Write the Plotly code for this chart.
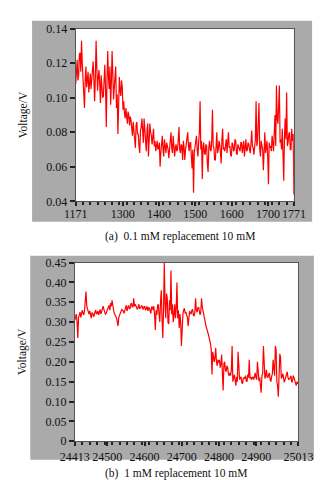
import plotly.graph_objects as go

W, H = 330, 480

# ---- data (a) ----
x_a_start, x_a_step = 1171, 2
volt_a = [
    0.108, 0.118, 0.122, 0.110, 0.113, 0.125, 0.126, 0.115, 0.133, 0.120,
    0.112, 0.104, 0.094, 0.110, 0.118, 0.106, 0.110, 0.115, 0.103, 0.112,
    0.114, 0.105, 0.109, 0.117, 0.121, 0.110, 0.098, 0.112, 0.133, 0.118,
    0.104, 0.112, 0.116, 0.108, 0.097, 0.113, 0.108, 0.100, 0.101, 0.110,
    0.119, 0.105, 0.083, 0.110, 0.127, 0.112, 0.105, 0.118, 0.096, 0.109,
    0.127, 0.114, 0.099, 0.106, 0.110, 0.118, 0.094, 0.102, 0.079, 0.095,
    0.112, 0.104, 0.101, 0.110, 0.106,
    0.093, 0.098, 0.091, 0.088, 0.094, 0.088, 0.085, 0.092, 0.090, 0.084,
    0.089, 0.087, 0.080, 0.078, 0.086,
    0.082, 0.076, 0.071, 0.084, 0.086, 0.079, 0.079, 0.072, 0.068, 0.081,
    0.083, 0.088, 0.077, 0.074, 0.088, 0.080, 0.074, 0.069, 0.081, 0.085,
    0.066, 0.078, 0.085, 0.080, 0.078, 0.073, 0.076, 0.082,
    0.072, 0.075, 0.069, 0.073, 0.075, 0.070, 0.071, 0.074, 0.060, 0.068,
    0.073, 0.078, 0.070, 0.066, 0.076, 0.072, 0.068, 0.074, 0.072, 0.070,
    0.065, 0.071, 0.074, 0.080, 0.071, 0.068, 0.078, 0.073, 0.066, 0.071,
    0.073, 0.069, 0.070, 0.076, 0.083, 0.070, 0.068, 0.073, 0.072, 0.064,
    0.075, 0.071, 0.064, 0.070, 0.073, 0.077, 0.080, 0.072, 0.069, 0.074,
    0.074, 0.066, 0.059, 0.070, 0.045, 0.068, 0.072, 0.075, 0.078, 0.070,
    0.066, 0.074, 0.080, 0.098, 0.070, 0.075, 0.053, 0.071, 0.074, 0.068,
    0.067, 0.073, 0.072, 0.062, 0.057, 0.071, 0.075, 0.070, 0.069, 0.075,
    0.093, 0.072, 0.071, 0.064, 0.064, 0.072, 0.080, 0.068, 0.070, 0.075,
    0.073, 0.068, 0.062, 0.076, 0.082, 0.070, 0.071, 0.069, 0.074, 0.076,
    0.068, 0.073, 0.080, 0.071, 0.072, 0.067, 0.066, 0.074, 0.073, 0.069,
    0.070, 0.076, 0.075, 0.068, 0.067, 0.073, 0.072, 0.070, 0.069, 0.074,
    0.074, 0.068, 0.071, 0.075, 0.066, 0.072, 0.076, 0.069, 0.070, 0.074,
    0.073, 0.070, 0.068, 0.074, 0.081, 0.072, 0.071, 0.067, 0.074, 0.076,
    0.098, 0.072, 0.075, 0.088, 0.097, 0.070, 0.066, 0.075, 0.073, 0.070,
    0.058, 0.074, 0.080, 0.068, 0.071, 0.075, 0.066, 0.050, 0.074, 0.071,
    0.072, 0.069, 0.078, 0.075, 0.069, 0.080, 0.090, 0.072, 0.107, 0.088,
    0.085, 0.095, 0.107, 0.074, 0.076, 0.070, 0.082, 0.068, 0.052, 0.077,
    0.088, 0.076, 0.103, 0.072, 0.074, 0.079, 0.080, 0.070, 0.070, 0.082,
    0.075, 0.079, 0.044,
]
time_a = [x_a_start + x_a_step * i for i in range(len(volt_a))]
ticks_a = [1171, 1300, 1400, 1500, 1600, 1700, 1771]
yticks_a = [0.04, 0.06, 0.08, 0.10, 0.12, 0.14]
ylabels_a = ["0.04", "0.06", "0.08", "0.10", "0.12", "0.14"]

# ---- data (b) ----
x_b_start, x_b_step = 24413, 2
volt_b = [
    0.305, 0.318, 0.320, 0.300, 0.260, 0.312, 0.318, 0.325, 0.312, 0.320,
    0.330, 0.322, 0.318, 0.328, 0.345, 0.377, 0.340, 0.335, 0.325, 0.320,
    0.328, 0.318, 0.310, 0.324, 0.322, 0.315, 0.316, 0.326, 0.330, 0.320,
    0.322, 0.328, 0.318, 0.325, 0.332, 0.320, 0.325, 0.330, 0.340, 0.332,
    0.328, 0.320, 0.322, 0.330, 0.334, 0.338, 0.342, 0.330, 0.348, 0.340,
    0.355, 0.335, 0.330, 0.322, 0.318, 0.312, 0.310, 0.300, 0.290, 0.312,
    0.318, 0.325, 0.325, 0.332, 0.330, 0.328, 0.322, 0.335, 0.336, 0.342,
    0.328, 0.336, 0.342, 0.335, 0.333, 0.345, 0.348, 0.338, 0.338, 0.360,
    0.340, 0.345, 0.340, 0.332, 0.332, 0.338, 0.345, 0.333, 0.336, 0.340,
    0.342, 0.335, 0.332, 0.340,
    0.338, 0.330, 0.334, 0.340, 0.328, 0.336, 0.335, 0.325, 0.322, 0.338,
    0.338, 0.330, 0.340, 0.318, 0.280, 0.330, 0.318, 0.342, 0.345, 0.320,
    0.300, 0.352, 0.380, 0.310, 0.260, 0.330, 0.450, 0.350, 0.310, 0.372,
    0.360, 0.300, 0.295, 0.355, 0.330, 0.430, 0.320, 0.345, 0.300, 0.318,
    0.345, 0.310, 0.335, 0.400, 0.310, 0.330, 0.285, 0.320, 0.300, 0.240,
    0.290, 0.320, 0.330, 0.335, 0.322, 0.325, 0.318, 0.312, 0.290, 0.318,
    0.328, 0.322, 0.320, 0.330, 0.332, 0.318, 0.315, 0.325, 0.360, 0.330,
    0.325, 0.335, 0.338, 0.328, 0.318, 0.325, 0.360, 0.338, 0.330, 0.322,
    0.315,
    0.300, 0.290, 0.285, 0.275, 0.270, 0.262, 0.255, 0.245, 0.230, 0.168,
    0.225, 0.215, 0.200, 0.210, 0.235, 0.200, 0.190, 0.205, 0.198, 0.205,
    0.185, 0.195, 0.218, 0.170, 0.128, 0.195, 0.200, 0.180, 0.175, 0.190,
    0.185, 0.170, 0.165, 0.172,
    0.165, 0.180, 0.240, 0.150, 0.160, 0.168, 0.155, 0.140, 0.162, 0.150,
    0.225, 0.180, 0.155, 0.160, 0.162, 0.148, 0.145, 0.158, 0.160, 0.158,
    0.165, 0.152, 0.150, 0.168, 0.160, 0.205, 0.158, 0.162, 0.155, 0.160,
    0.162, 0.155, 0.168, 0.172, 0.160, 0.155, 0.200, 0.165, 0.152, 0.160,
    0.140, 0.122, 0.165, 0.170, 0.240, 0.210, 0.158, 0.165, 0.180, 0.162,
    0.160, 0.168, 0.172, 0.155, 0.150, 0.162, 0.170, 0.205, 0.175, 0.165,
    0.240, 0.230, 0.150, 0.140, 0.112, 0.165, 0.220, 0.210, 0.158, 0.162,
    0.170, 0.160, 0.148, 0.155, 0.162, 0.170, 0.175, 0.160, 0.155, 0.158,
    0.160, 0.165, 0.148, 0.152, 0.165, 0.160, 0.150, 0.145, 0.140, 0.150,
    0.145, 0.148,
]
time_b = [x_b_start + x_b_step * i for i in range(len(volt_b))]
ticks_b = [24413, 24500, 24600, 24700, 24800, 24900, 25013]
yticks_b = [0, 0.05, 0.10, 0.15, 0.20, 0.25, 0.30, 0.35, 0.40, 0.45]
ylabels_b = ["0", "0.05", "0.10", "0.15", "0.20", "0.25", "0.30", "0.35", "0.40", "0.45"]

captions = ["(a)  0.1 mM replacement 10 mM", "(b)  1 mM replacement 10 mM"]
ytitle = "Voltage/V"

FONT = "Liberation Serif"
RED = "#ff0000"
GREY = "#aaaaaa"
FRAME = "#555555"


def px(x):
    return x / W


def py(y):
    return 1 - y / H


fig = go.Figure()
fig.add_trace(go.Scatter(x=time_a, y=volt_a, mode="lines",
                         line=dict(color=RED, width=1.2), xaxis="x", yaxis="y",
                         showlegend=False))
fig.add_trace(go.Scatter(x=time_b, y=volt_b, mode="lines",
                         line=dict(color=RED, width=1.2), xaxis="x2", yaxis="y2",
                         showlegend=False))

tickfont = dict(family=FONT, size=12, color="#111")
common_x = dict(showgrid=False, zeroline=False, showline=True, linecolor=FRAME,
                linewidth=1, mirror=True, ticks="outside", ticklen=4, tickwidth=1.5,
                tickcolor="#222", tickangle=0, tickfont=tickfont)
common_y = dict(showgrid=False, zeroline=False, showline=True, linecolor=FRAME,
                linewidth=1, mirror=True, ticks="outside", ticklen=5, tickwidth=1.5,
                tickcolor="#222", tickfont=tickfont,
                title=dict(text=ytitle, font=dict(family=FONT, size=11.5, color="#111"),
                           standoff=16))

fig.update_layout(
    width=W, height=H,
    margin=dict(l=0, r=0, t=0, b=0),
    paper_bgcolor="white",
    plot_bgcolor="white",
    xaxis=dict(domain=[px(58), px(298)], range=[1171, 1771], anchor="y",
               tickvals=ticks_a, ticktext=[str(v) for v in ticks_a],
               ticklabelstandoff=-3,
               minor=dict(tick0=1171, dtick=20, ticks="outside", ticklen=3,
                          tickwidth=1.5, tickcolor="#222", showgrid=False),
               **common_x),
    yaxis=dict(domain=[py(192), py(14)], range=[0.04, 0.14], anchor="x",
               tickvals=yticks_a, ticktext=ylabels_a, **common_y),
    xaxis2=dict(domain=[px(57), px(303)], range=[24413, 25013], anchor="y2",
                tickvals=ticks_b, ticktext=[str(v) for v in ticks_b],
                ticklabelstandoff=0,
                minor=dict(tick0=24413, dtick=20, ticks="outside", ticklen=3,
                           tickwidth=1.5, tickcolor="#222", showgrid=False),
                **common_x),
    yaxis2=dict(domain=[py(439), py(255)], range=[0, 0.45], anchor="x2",
                tickvals=yticks_b, ticktext=ylabels_b, **common_y),
    shapes=[
        dict(type="rect", xref="paper", yref="paper", layer="below",
             x0=px(10), x1=px(318), y0=py(213), y1=py(6),
             fillcolor=GREY, line=dict(width=0)),
        dict(type="rect", xref="paper", yref="paper", layer="below",
             x0=px(8), x1=px(320), y0=py(458), y1=py(248),
             fillcolor=GREY, line=dict(width=0)),
        dict(type="rect", xref="paper", yref="paper", layer="below",
             x0=px(58), x1=px(298), y0=py(192), y1=py(14),
             fillcolor="white", line=dict(width=0)),
        dict(type="rect", xref="paper", yref="paper", layer="below",
             x0=px(57), x1=px(303), y0=py(439), y1=py(255),
             fillcolor="white", line=dict(width=0)),
    ],
    annotations=[
        dict(text=captions[0], xref="paper", yref="paper", x=px(173), y=py(228),
             showarrow=False, font=dict(family=FONT, size=11.5, color="#111"),
             xanchor="center", yanchor="middle"),
        dict(text=captions[1], xref="paper", yref="paper", x=px(168), y=py(472),
             showarrow=False, font=dict(family=FONT, size=11.5, color="#111"),
             xanchor="center", yanchor="middle"),
    ],
)

fig.write_html("out.html")
